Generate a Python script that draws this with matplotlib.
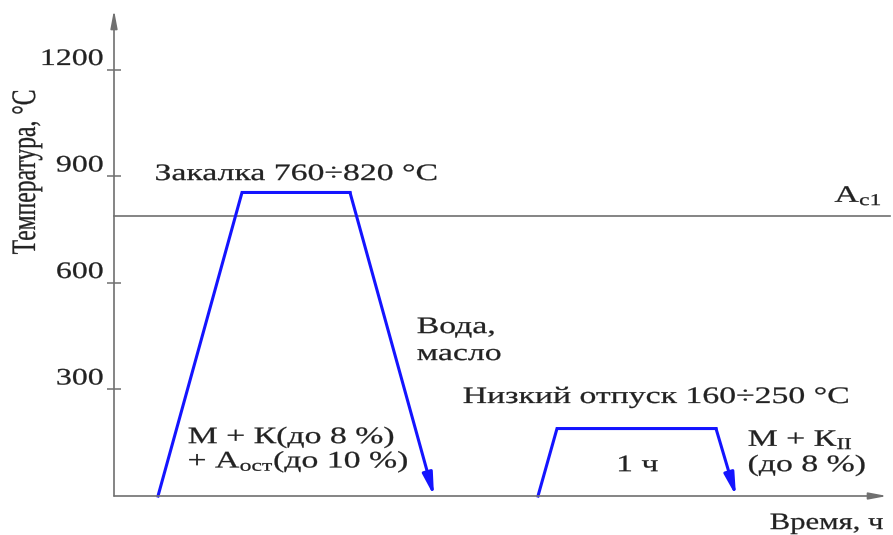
import matplotlib
matplotlib.use("Agg")
from matplotlib import pyplot as plt
from matplotlib.patheffects import AbstractPathEffect
from matplotlib.transforms import Affine2D

# режим термообработки: закалка + низкий отпуск
quench_time = [4.4, 12.8, 23.6, 32.0]
quench_temp = [0, 855, 855, 0]
temper_time = [42.4, 44.3, 60.2, 62.2]
temper_temp = [0, 190, 190, 0]
ac1_temp = 790
y_ticks = [300, 600, 900, 1200]
y_tick_labels = ["300", "600", "900", "1200"]

BLUE = "#1414ff"
GRAY = "#707070"
INK = "#222222"
SX = 1.43  # the source picture has wide, stretched lettering


class Stretch(AbstractPathEffect):
    # stretch glyph paths around an anchor, text itself stays a Text artist
    def __init__(self, sx=1.0, sy=1.0, ha="left", stroke=0.2):
        super().__init__()
        self.sx = sx
        self.sy = sy
        self.ha = ha
        self.stroke = stroke

    def draw_path(self, renderer, gc, tpath, affine, rgbFace=None):
        if len(tpath.vertices) == 0:
            return
        ext = tpath.get_extents()
        px = {"left": ext.x0, "right": ext.x1, "center": (ext.x0 + ext.x1) / 2}[self.ha]
        py = (ext.y0 + ext.y1) / 2
        t = Affine2D().translate(-px, -py).scale(self.sx, self.sy).translate(px, py)
        gc0 = renderer.new_gc()
        gc0.copy_properties(gc)
        gc0.set_linewidth(self.stroke)
        gc0.set_foreground(rgbFace)
        renderer.draw_path(gc0, tpath, t + affine, rgbFace)
        gc0.restore()


plt.rcParams["font.family"] = ["Liberation Serif", "DejaVu Serif"]
plt.rcParams["mathtext.fontset"] = "custom"
plt.rcParams["mathtext.rm"] = "Liberation Serif"
plt.rcParams["mathtext.it"] = "Liberation Serif:italic"
plt.rcParams["mathtext.bf"] = "Liberation Serif:bold"
FS = 17

fig = plt.figure(figsize=(8.93, 5.35), dpi=100)
ax = fig.add_axes([114 / 893, 39 / 535, 776 / 893, 486 / 535])
ax.set_xlim(0, 77.6)
ax.set_ylim(0, 1369)
for s in ax.spines.values():
    s.set_visible(False)

# оси со стрелками
axis_arrow = dict(arrowstyle="-|>,head_length=0.9,head_width=0.17", color=GRAY, lw=1.2,
                  shrinkA=0, shrinkB=0, mutation_scale=12)
ax.annotate("", xy=(77.3, 0), xytext=(0, 0), arrowprops=axis_arrow, annotation_clip=False)
ax.annotate("", xy=(0, 1369), xytext=(0, 0), arrowprops=axis_arrow, annotation_clip=False)

ax.set_xticks([])
ax.set_yticks(y_ticks)
ax.set_yticklabels(y_tick_labels)
ax.tick_params(axis="y", direction="inout", length=9.5, width=1.1, color=GRAY,
               labelsize=FS, labelcolor=INK, pad=3)
for lbl in ax.get_yticklabels():
    lbl.set_va("bottom")
    lbl.set_path_effects([Stretch(1.35, 1, "right")])

# линия Ac1
ax.axhline(ac1_temp, color=GRAY, lw=1.2, clip_on=False)
ax.text(76.8, 828, r"А$_{\mathrm{c1}}$", fontsize=FS, color=INK, ha="right", va="baseline",
        path_effects=[Stretch(SX, 1, "right")])

# кривые нагрева и охлаждения
head = dict(arrowstyle="-|>,head_length=1.1,head_width=0.25", color=BLUE, lw=2.2,
            shrinkA=0, shrinkB=0, mutation_scale=12)
for t, T in [(quench_time, quench_temp), (temper_time, temper_temp)]:
    ax.plot(t[:-1], T[:-1], color=BLUE, lw=2.2, solid_joinstyle="miter", clip_on=False)
    ax.annotate("", xy=(t[-1], T[-1]), xytext=(t[-2], T[-2]), arrowprops=head,
                annotation_clip=False)

# подписи
notes = [
    (4.1, 890, "Закалка 760÷820 °C"),
    (30.3, 459, "Вода,"),
    (30.3, 383, "масло"),
    (7.4, 149, "М + К(до 8 %)"),
    (7.4, 80, r"+ А$_{\mathrm{ост}}$(до 10 %)"),
    (34.9, 262, "Низкий отпуск 160÷250 °C"),
    (50.3, 70, "1 ч"),
    (63.4, 141, r"М + К$_{\mathrm{II}}$"),
    (63.4, 70, "(до 8 %)"),
]
for x, y, s in notes:
    ax.text(x, y, s, fontsize=FS, color=INK, ha="left", va="baseline",
            path_effects=[Stretch(SX, 1, "left")])

ax.set_xlabel("Время, ч", fontsize=FS, color=INK, ha="right", va="baseline")
ax.xaxis.set_label_coords(0.991, -0.068)
ax.xaxis.label.set_path_effects([Stretch(1.3, 1, "right")])

ax.set_ylabel("Температура, °C", fontsize=FS, color=INK, ha="center", va="center")
ax.yaxis.set_label_coords(-0.112, 0.667)
ax.yaxis.label.set_path_effects([Stretch(1, 1.45, "center")])

fig.savefig("out.png", dpi=100)
